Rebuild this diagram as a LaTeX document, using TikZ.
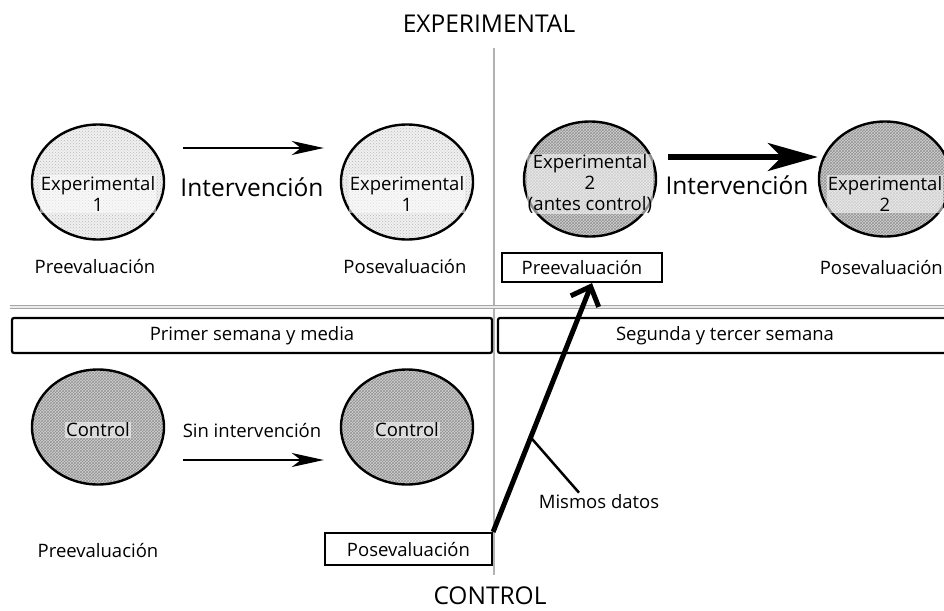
\documentclass[tikz,border=0pt]{standalone}
\usepackage{fontspec}
\setmainfont{Open Sans}
\usetikzlibrary{shapes.geometric, arrows.meta, patterns}
\newcommand{\txtsize}{\fontsize{18.5}{21}\selectfont}
\newcommand{\bigsize}{\fontsize{24.5}{28}\selectfont}

\tikzset{
  blob/.style={ellipse, draw, line width=2.4pt, minimum width=132pt, minimum height=115pt, inner sep=0pt},
  paper/.style={blob, preaction={fill=gray!12}, pattern=crosshatch dots, pattern color=gray!55},
  mesh/.style={blob, preaction={fill=gray!35}, pattern=crosshatch, pattern color=gray!85},
  intext/.style={font=\txtsize, align=center, inner sep=1pt, fill=white, fill opacity=0.55, text opacity=1},
  lbl/.style={font=\txtsize, inner sep=0pt},
  tagbox/.style={draw, line width=2.2pt, font=\txtsize, inner sep=0pt},
  weekbox/.style={draw, line width=2.2pt, rounded corners=2pt, font=\txtsize, minimum height=35pt, inner sep=0pt},
}

\begin{document}
\begin{tikzpicture}[x=1pt, y=-1pt]
  \fill[white] (0,0) rectangle (944,610);
  \useasboundingbox (0,0) rectangle (944,610);

  % Dividers
  \draw[gray!60, line width=1.2pt] (494,48) -- (494,575);
  \draw[gray!70, line width=1pt, double=gray!15, double distance=2pt] (10,307) -- (944,307);

  % Titles
  \node[font=\bigsize] (exptitle) at (489,24) {EXPERIMENTAL};
  \node[font=\bigsize] (ctltitle) at (490,596) {CONTROL};

  % Groups
  \node[paper] (e1pre) at (98,182) {};
  \node[paper] (e1post) at (407,182) {};
  \node[mesh] (e2pre) at (590,179) {};
  \node[mesh] (e2post) at (885,179) {};
  \node[mesh] (c1pre) at (98,427) {};
  \node[mesh] (c1post) at (407,427) {};

  \node[intext] (e1pretxt) at ([yshift=-12pt]e1pre.center) {Experimental\\1};
  \node[intext] (e1posttxt) at ([yshift=-12pt]e1post.center) {Experimental\\1};
  \node[intext] (e2pretxt) at ([yshift=-5pt]e2pre.center) {Experimental\\2\\(antes control)};
  \node[intext] (e2posttxt) at ([yshift=-15pt]e2post.center) {Experimental\\2};
  \node[intext] (c1pretxt) at ([yshift=-3pt]c1pre.center) {Control};
  \node[intext] (c1posttxt) at ([yshift=-3pt]c1post.center) {Control};

  % Labels
  \node[lbl] (e1prelbl) at (95,267) {Preevaluación};
  \node[lbl] (e1postlbl) at (405,267) {Posevaluación};
  \node[tagbox, minimum width=160pt, minimum height=29pt] (prebox) at (582,267.5) {Preevaluación};
  \node[lbl, anchor=east] (e2postlbl) at (943,268) {Posevaluación};
  \node[weekbox, minimum width=480pt] (week1) at (252,335.5) {Primer semana y media};
  \node[weekbox, minimum width=454pt] (week2) at (725,335.5) {Segunda y tercer semana};
  \node[lbl] (c1prelbl) at (98,550) {Preevaluación};
  \node[tagbox, minimum width=167pt, minimum height=32pt] (postbox) at (408.5,549) {Posevaluación};
  \node[lbl] (datos) at (599,502) {Mismos datos};
  \node[font=\bigsize] (interv1) at (252,187) {Intervención};
  \node[font=\bigsize] (interv2) at (737,185) {Intervención};
  \node[lbl] (sininterv) at (252,430) {Sin intervención};

  % Arrows
  \draw[line width=2pt, -{Stealth[length=32pt, width=14pt, inset=9pt]}]
    ([shift={(18pt,34pt)}]e1pre.east) -- ([shift={(-16pt,34pt)}]e1post.west);
  \draw[line width=5.5pt, -{Stealth[length=50pt, width=28pt, inset=14pt]}]
    ([shift={(11pt,22pt)}]e2pre.east) -- ([yshift=22pt]e2post.west);
  \draw[line width=2pt, -{Stealth[length=32pt, width=14pt, inset=9pt]}]
    ([shift={(18pt,-33pt)}]c1pre.east) -- ([shift={(-16pt,-33pt)}]c1post.west);
  \draw[line width=5pt, -{Straight Barb[length=16pt, width=30pt]}]
    (postbox.north east) -- coordinate[pos=0.38] (datospt) ([xshift=10pt]prebox.south);
  \draw[line width=2.5pt] (datospt) -- ([shift={(-20pt,2pt)}]datos.north);
\end{tikzpicture}
\end{document}
